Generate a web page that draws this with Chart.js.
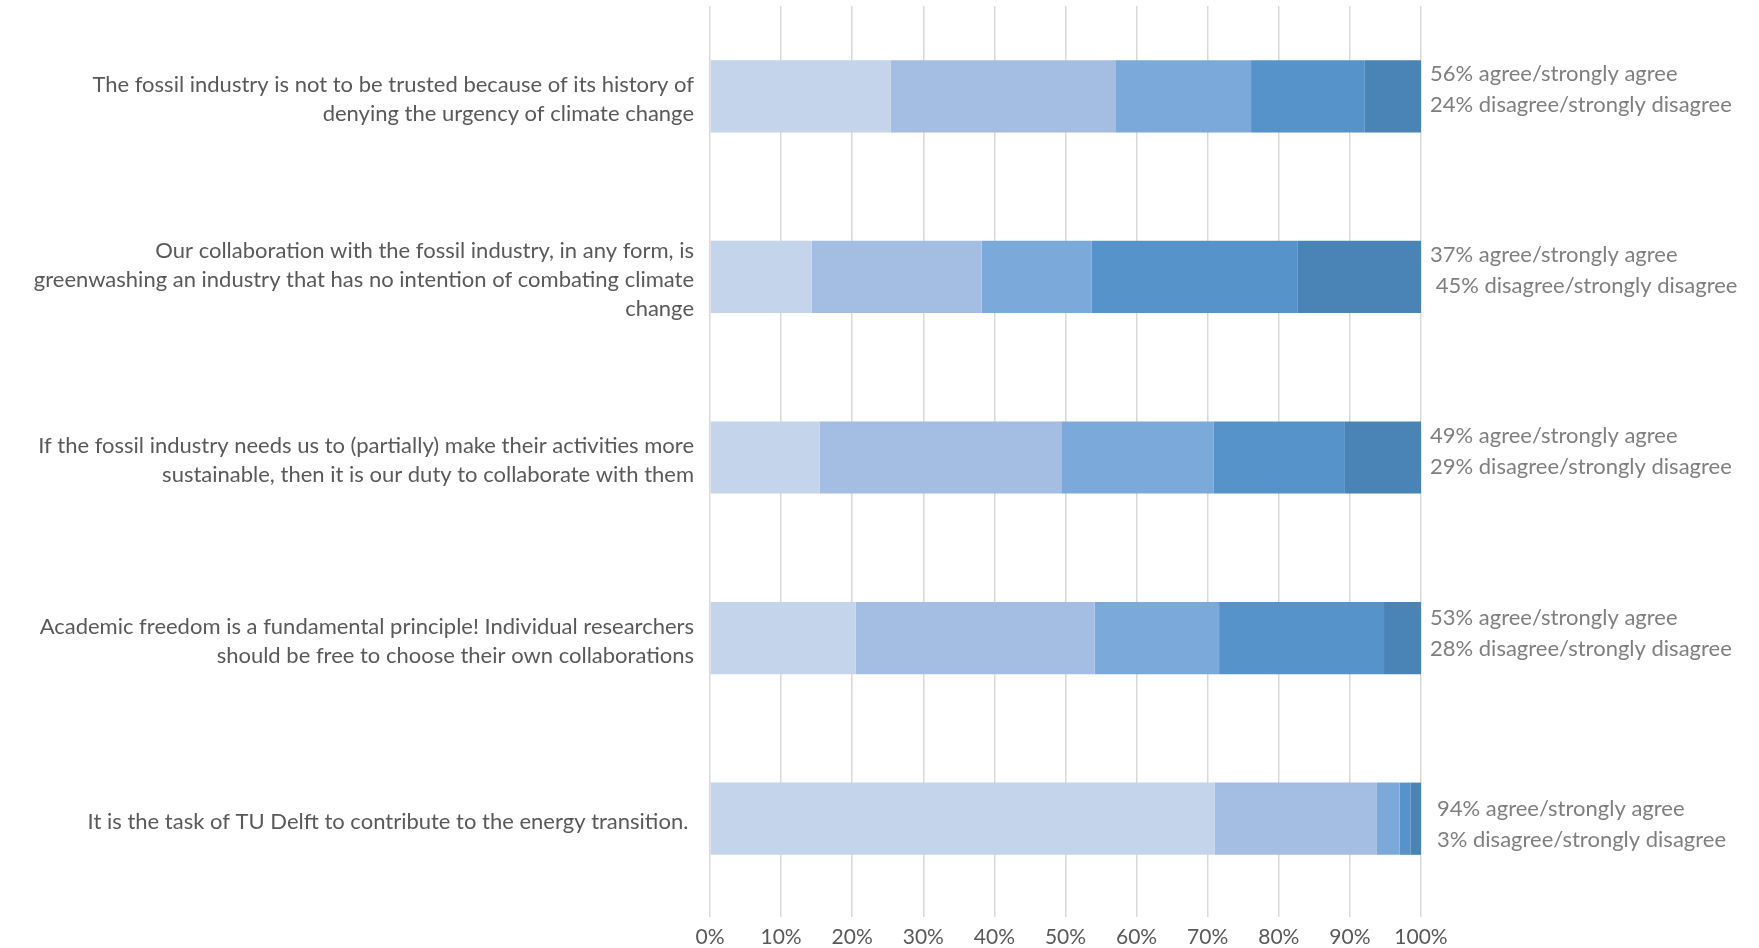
<!DOCTYPE html>
<html>
<head>
<meta charset="utf-8">
<script src="https://cdn.jsdelivr.net/npm/chart.js@4.4.1/dist/chart.umd.min.js"></script>
<style>
  html, body { margin: 0; padding: 0; background: #fff; }
  #wrap { width: 1759px; height: 948px; position: relative; }
</style>
</head>
<body>
<div id="wrap"><canvas id="likertChart"></canvas></div>
<script>
const statements = [
    ['The fossil industry is not to be trusted because of its history of', 'denying the urgency of climate change'],
    ['Our collaboration with the fossil industry, in any form, is', 'greenwashing an industry that has no intention of combating climate', 'change'],
    ['If the fossil industry needs us to (partially) make their activities more', 'sustainable, then it is our duty to collaborate with them'],
    ['Academic freedom is a fundamental principle! Individual researchers', 'should be free to choose their own collaborations'],
    ['It is the task of TU Delft to contribute to the energy transition. ']
];

const stronglyAgree    = [25.4, 14.3, 15.4, 20.5, 71.0];
const agree            = [31.6, 23.9, 34.0, 33.6, 22.8];
const neutral          = [19.1, 15.5, 21.4, 17.5, 3.2];
const disagree         = [16.0, 28.9, 18.5, 23.2, 1.5];
const stronglyDisagree = [7.9, 17.4, 10.7, 5.2, 1.5];

const agreeNotes    = ['56% agree/strongly agree', '37% agree/strongly agree', '49% agree/strongly agree', '53% agree/strongly agree', '94% agree/strongly agree'];
const disagreeNotes = ['24% disagree/strongly disagree', ' 45% disagree/strongly disagree', '29% disagree/strongly disagree', '28% disagree/strongly disagree', '3% disagree/strongly disagree'];

const xTicks = [0, 10, 20, 30, 40, 50, 60, 70, 80, 90, 100];

// small per-row nudges for the side notes (dy, dx)
const noteShift = [[2, 0], [2, 0], [2, 0], [4, 0], [14, 7]];

const FONT = 'Lato, "Open Sans", sans-serif';

const sideNotes = {
    id: 'sideNotes',
    afterDraw(chart) {
        const ctx = chart.ctx;
        const yScale = chart.scales.y;
        const x0 = chart.chartArea.right + 9;
        ctx.save();
        ctx.font = '22px ' + FONT;
        ctx.fillStyle = '#7f7f7f';
        ctx.textAlign = 'left';
        ctx.textBaseline = 'middle';
        statements.forEach((s, i) => {
            const y = yScale.getPixelForValue(i) + noteShift[i][0];
            const x = x0 + noteShift[i][1];
            ctx.fillText(agreeNotes[i], x, y - 24);
            ctx.fillText(disagreeNotes[i], x, y + 7);
        });
        ctx.restore();
    }
};

const colors = ['#c4d4ea', '#a3bee2', '#7aa9da', '#5593ca', '#4a83b6'];
const names = ['Strongly agree', 'Agree', 'Neutral', 'Disagree', 'Strongly disagree'];
const series = [stronglyAgree, agree, neutral, disagree, stronglyDisagree];

new Chart(document.getElementById('likertChart'), {
    type: 'bar',
    data: {
        labels: statements,
        datasets: series.map((d, i) => ({
            label: names[i],
            data: d,
            backgroundColor: colors[i],
            borderWidth: 0,
            barPercentage: 0.4,
            categoryPercentage: 1
        }))
    },
    options: {
        indexAxis: 'y',
        responsive: true,
        maintainAspectRatio: false,
        animation: false,
        layout: { padding: { top: 6, right: 338, left: 0, bottom: 0 } },
        plugins: { legend: { display: false }, tooltip: { enabled: false } },
        scales: {
            x: {
                stacked: true,
                min: 0,
                max: 100,
                afterBuildTicks: (scale) => { scale.ticks = xTicks.map(v => ({ value: v })); },
                afterFit: (scale) => { scale.height = 39; },
                border: { display: false },
                grid: { color: '#d9d9d9', lineWidth: 1.5, tickLength: 8, drawTicks: true },
                ticks: { padding: 8, color: '#595959', font: { family: FONT, size: 21 }, callback: v => v + '%', maxRotation: 0, autoSkip: false }
            },
            y: {
                stacked: true,
                afterFit: (scale) => {
                    scale.width = 710;
                    scale.paddingTop = 0;
                    scale.paddingBottom = 0;
                },
                border: { display: false },
                grid: { display: false, drawTicks: false },
                ticks: { padding: 16, labelOffset: 3, color: '#595959', font: { family: FONT, size: 22, lineHeight: 1.32 }, autoSkip: false }
            }
        }
    },
    plugins: [sideNotes]
});
</script>
</body>
</html>
